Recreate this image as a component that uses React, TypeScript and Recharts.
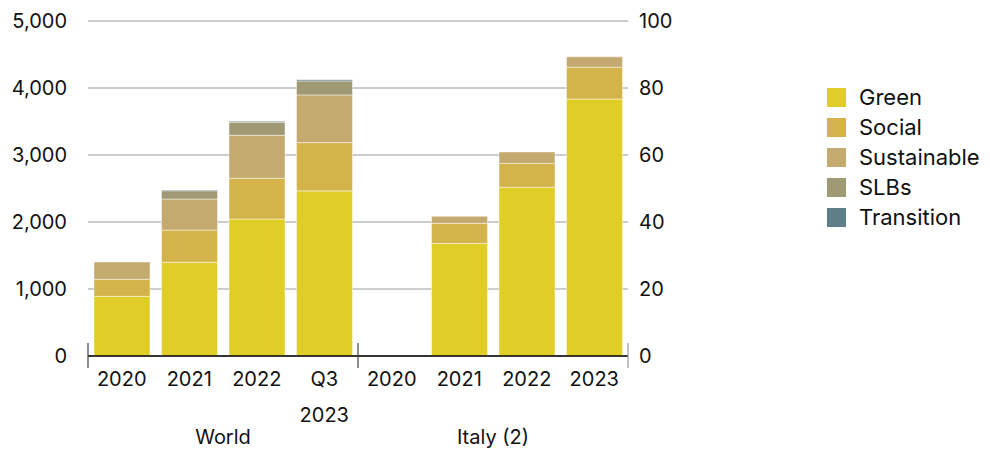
import { BarChart, Bar, XAxis, YAxis, CartesianGrid } from "recharts";

// categories on the x axis (first four = World, last four = Italy)
const categories = ["2020", "2021", "2022", "Q3 2023", "2020", "2021", "2022", "2023"];
const groups = ["World", "Italy (2)"];

// World, billions (left axis)
const worldGreen = [890, 1400, 2045, 2465];
const worldSocial = [255, 480, 607, 720];
const worldSustainable = [258, 463, 642, 712];
const worldSLBs = [0, 124, 194, 209];
const worldTransition = [0, 12, 15, 18];

// Italy, billions (right axis)
const italyGreen = [0, 33.6, 50.4, 76.7];
const italySocial = [0, 6.0, 7.1, 9.5];
const italySustainable = [0, 2.1, 3.4, 3.1];
const italySLBs = [0, 0, 0, 0];
const italyTransition = [0, 0, 0, 0];

const leftTicks = [0, 1000, 2000, 3000, 4000, 5000];
const rightTicks = [0, 20, 40, 60, 80, 100];

const series = [
  { key: "Green", color: "#e0cd28" },
  { key: "Social", color: "#d4b44a" },
  { key: "Sustainable", color: "#c4aa6e" },
  { key: "SLBs", color: "#a09a74" },
  { key: "Transition", color: "#5f7f88" },
];

const worldValues: Record<string, number[]> = {
  Green: worldGreen,
  Social: worldSocial,
  Sustainable: worldSustainable,
  SLBs: worldSLBs,
  Transition: worldTransition,
};
const italyValues: Record<string, number[]> = {
  Green: italyGreen,
  Social: italySocial,
  Sustainable: italySustainable,
  SLBs: italySLBs,
  Transition: italyTransition,
};

const data = categories.map((label, i) => {
  const row: Record<string, string | number | null> = { label };
  series.forEach((s) => {
    row["w" + s.key] = i < 4 ? worldValues[s.key][i] : null;
    row["i" + s.key] = i >= 4 ? italyValues[s.key][i - 4] : null;
  });
  return row;
});

const W = 990;
const H = 451;
const MARGIN = { top: 21, right: 292, bottom: 0, left: 0 };
const LEFT_W = 88;
const RIGHT_W = 70;
const PLOT_W = W - MARGIN.left - MARGIN.right - LEFT_W - RIGHT_W;
const band = PLOT_W / categories.length;
const FONT = "Inter, 'Liberation Sans', sans-serif";

function CategoryTick(props: any) {
  const { x, y, payload, index } = props;
  const parts = String(payload.value).split(" ");
  const half = band / 2;
  const isGroupStart = index % 4 === 0;
  const isLast = index === categories.length - 1;
  return (
    <g>
      {isGroupStart && (
        <line x1={x - half} x2={x - half} y1={y - 13} y2={y + 12} stroke="#444" strokeWidth={1.2} />
      )}
      {isLast && (
        <line x1={x + half} x2={x + half} y1={y - 13} y2={y + 12} stroke="#999" strokeWidth={1.2} />
      )}
      {parts.map((p, k) => (
        <text
          key={k}
          x={x}
          y={y + 30 + k * 36}
          textAnchor="middle"
          fill="#111"
          fontSize={20}
          fontFamily={FONT}
        >
          {p}
        </text>
      ))}
      {index % 4 === 1 && (
        <text x={x + half} y={y + 88} textAnchor="middle" fill="#111" fontSize={20} fontFamily={FONT}>
          {groups[Math.floor(index / 4)]}
        </text>
      )}
    </g>
  );
}

export default function App() {
  return (
    <div style={{ position: "absolute", left: 0, top: 0, width: W, height: H, background: "#fff" }}>
      <BarChart
        width={W}
        height={H}
        data={data}
        margin={MARGIN}
        barCategoryGap={6}
        style={{ fontFamily: FONT }}
      >
        <CartesianGrid
          xAxisId="world"
          yAxisId="left"
          vertical={false}
          stroke="#9a9a9a"
          strokeWidth={1}
        />
        <XAxis
          xAxisId="world"
          dataKey="label"
          height={95}
          tickLine={false}
          tickSize={0}
          tickMargin={0}
          interval={0}
          axisLine={{ stroke: "#000", strokeWidth: 1.5 }}
          tick={<CategoryTick />}
        />
        <XAxis xAxisId="italy" dataKey="label" hide height={0} />
        <YAxis
          yAxisId="left"
          orientation="left"
          width={LEFT_W}
          domain={[0, 5000]}
          ticks={leftTicks}
          axisLine={false}
          tickLine={false}
          tickSize={0}
          tickMargin={21}
          tickFormatter={(v: number) => v.toLocaleString("en-US")}
          tick={{ fill: "#111", fontSize: 20 }}
        />
        <YAxis
          yAxisId="right"
          orientation="right"
          width={RIGHT_W}
          domain={[0, 100]}
          ticks={rightTicks}
          axisLine={false}
          tickLine={false}
          tickSize={0}
          tickMargin={11}
          tick={{ fill: "#111", fontSize: 20 }}
        />
        {series.map((s) => (
          <Bar
            key={"w" + s.key}
            xAxisId="world"
            yAxisId="left"
            stackId="world"
            dataKey={"w" + s.key}
            fill={s.color}
            stroke="rgba(255,255,255,0.45)"
            strokeWidth={1}
            isAnimationActive={false}
          />
        ))}
        {series.map((s) => (
          <Bar
            key={"i" + s.key}
            xAxisId="italy"
            yAxisId="right"
            stackId="italy"
            dataKey={"i" + s.key}
            fill={s.color}
            stroke="rgba(255,255,255,0.45)"
            strokeWidth={1}
            isAnimationActive={false}
          />
        ))}
      </BarChart>

      {/* legend */}
      <div style={{ position: "absolute", left: 827, top: 82.5, fontFamily: FONT }}>
        {series.map((s) => (
          <div key={s.key} style={{ display: "flex", alignItems: "center", height: 30 }}>
            <div style={{ width: 19, height: 19, background: s.color, marginRight: 13 }} />
            <span style={{ fontSize: 22, color: "#111", lineHeight: "19px" }}>{s.key}</span>
          </div>
        ))}
      </div>
    </div>
  );
}
